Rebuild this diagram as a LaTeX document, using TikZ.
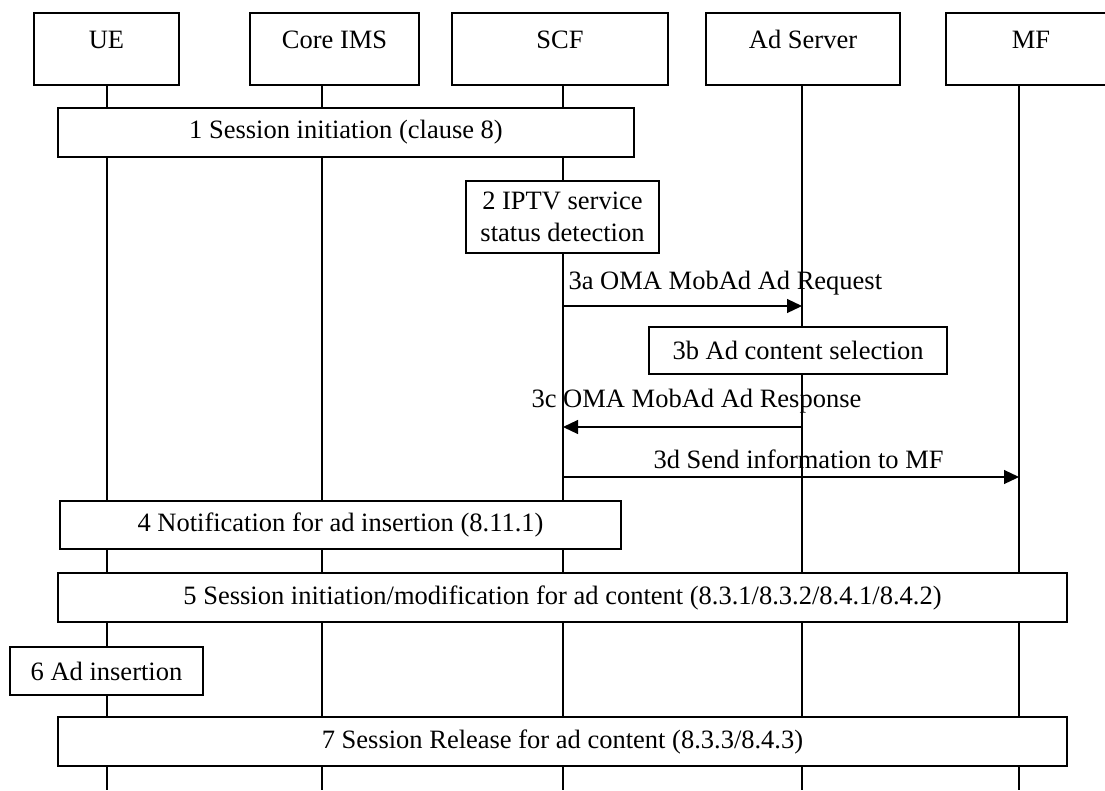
\documentclass[tikz,border=0pt]{standalone}
\usepackage{fontspec}
\setmainfont{Liberation Serif}
\usetikzlibrary{arrows.meta}

\begin{document}
\begin{tikzpicture}[x=1pt,y=-1pt,line width=1.2pt,
 font=\fontsize{26.5}{32}\selectfont,
 actor/.style={draw,inner sep=0pt,text height=35pt,text depth=37pt},
 stepbox/.style={draw,fill=white,inner sep=0pt,minimum height=49pt,align=center},
 msg/.style={-{Triangle[length=15pt,width=14pt]}},
 lbl/.style={anchor=base west,inner sep=0pt}]
\useasboundingbox (0,0) rectangle (1105,790);
\clip (0,0) rectangle (1105,790);
% lifelines
\foreach \n/\x in {ue/107,ims/322,scf/563,ads/802,mf/1019}{
  \coordinate (\n-top) at (\x,85);
  \coordinate (\n-bot) at (\x,790);
  \draw (\n-top) -- (\n-bot);}
% entities
\node[actor,minimum width=145pt] (ue) at (106.5,49) {UE};
\node[actor,minimum width=169pt] (ims) at (334.5,49) {Core IMS};
\node[actor,minimum width=216pt] (scf) at (560,49) {SCF};
\node[actor,minimum width=194pt] (ads) at (803,49) {Ad Server};
\node[actor,minimum width=170pt] (mf) at (1031,49) {MF};
% steps
\node[stepbox,minimum width=576pt] (s1) at (346,132.5) {1 Session initiation (clause 8)};
\node[stepbox,minimum width=193pt,minimum height=72pt] (s2) at (562.5,217) {2 IPTV service\\status detection};
\node[stepbox,minimum width=298pt,minimum height=47pt] (s3b) at (798,350.5) {3b Ad content selection};
\node[stepbox,minimum width=561pt,minimum height=48pt] (s4) at (340.5,525) {4 Notification for ad insertion (8.11.1)};
\node[stepbox,minimum width=1009pt] (s5) at (562.5,597.5) {5 Session initiation/modification for ad content (8.3.1/8.3.2/8.4.1/8.4.2)};
\node[stepbox,minimum width=193pt,minimum height=48pt] (s6) at (106.5,671) {6 Ad insertion};
\node[stepbox,minimum width=1009pt] (s7) at (562.5,741.5) {7 Session Release for ad content (8.3.3/8.4.3)};
% messages
\draw[msg] (scf-top |- 0,306) -- (ads-top |- 0,306);
\node[lbl] (t3a) at (568,289) {3a OMA MobAd Ad Request};
\draw[msg] (ads-top |- 0,427) -- (scf-top |- 0,427);
\node[lbl] (t3c) at (531,407) {3c OMA MobAd Ad Response};
\draw[msg] (scf-top |- 0,477) -- (mf-top |- 0,477);
\node[lbl] (t3d) at (653,468) {3d Send information to MF};
\end{tikzpicture}
\end{document}
